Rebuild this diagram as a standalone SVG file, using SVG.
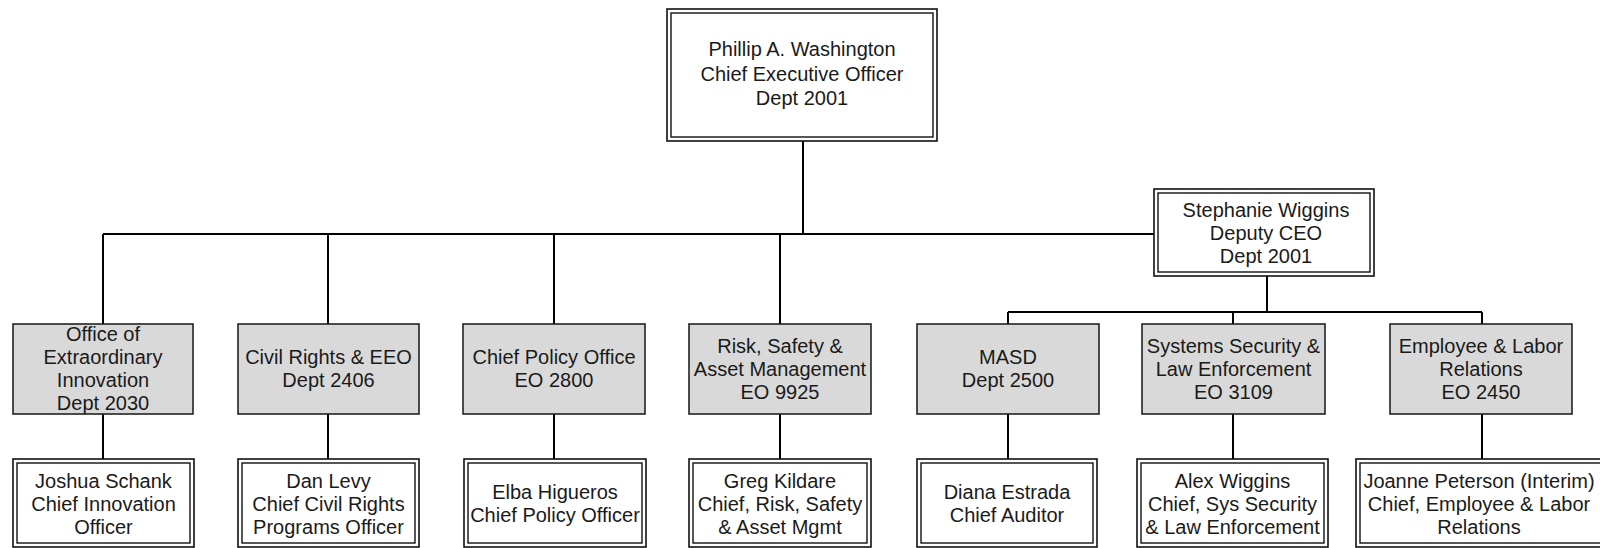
<svg xmlns="http://www.w3.org/2000/svg" width="1600" height="548" viewBox="0 0 1600 548">
<style>
.bg{fill:#ffffff}
.o{fill:#ffffff;stroke:#111;stroke-width:1.6}
.i{fill:none;stroke:#111;stroke-width:1.4}
.g{fill:#d9d9d9;stroke:#222;stroke-width:1.6}
.c{fill:none;stroke:#000;stroke-width:2}
text{font-family:"Liberation Sans",Arial,sans-serif;font-size:20px;fill:#1a1a1a;text-anchor:middle}
</style>
<rect class="bg" x="0" y="0" width="1600" height="548"/>
<g id="connectors">
<path class="c" d="M803,141V234M103,234H1154M103,234V324M328,234V324M554,234V324M780,234V324"/>
<path class="c" d="M1267,276V312M1008,312H1482M1008,312V324M1233,312V324M1482,312V324"/>
<path class="c" d="M103,414V459M328,414V459M554,414V459M780,414V459M1008,414V459M1233,414V459M1482,414V459"/>
</g>
<g id="ceo">
<rect class="o" x="667" y="9" width="270" height="132"/>
<rect class="i" x="671" y="13" width="262" height="124"/>
<text x="802" y="56">Phillip A. Washington</text>
<text x="802" y="81">Chief Executive Officer</text>
<text x="802" y="105">Dept 2001</text>
</g>
<g id="deputy">
<rect class="o" x="1154" y="189" width="220" height="87"/>
<rect class="i" x="1158" y="193" width="212" height="79"/>
<text x="1266" y="217">Stephanie Wiggins</text>
<text x="1266" y="240">Deputy CEO</text>
<text x="1266" y="263">Dept 2001</text>
</g>
<g id="dept-oei">
<rect class="g" x="13" y="324" width="180" height="90"/>
<text x="103" y="341">Office of</text>
<text x="103" y="364">Extraordinary</text>
<text x="103" y="387">Innovation</text>
<text x="103" y="410">Dept 2030</text>
</g>
<g id="dept-civil">
<rect class="g" x="238" y="324" width="181" height="90"/>
<text x="328.5" y="364">Civil Rights &amp; EEO</text>
<text x="328.5" y="387">Dept 2406</text>
</g>
<g id="dept-policy">
<rect class="g" x="463" y="324" width="182" height="90"/>
<text x="554" y="364">Chief Policy Office</text>
<text x="554" y="387">EO 2800</text>
</g>
<g id="dept-risk">
<rect class="g" x="689" y="324" width="182" height="90"/>
<text x="780" y="353">Risk, Safety &amp;</text>
<text x="780" y="376">Asset Management</text>
<text x="780" y="399">EO 9925</text>
</g>
<g id="dept-masd">
<rect class="g" x="917" y="324" width="182" height="90"/>
<text x="1008" y="364">MASD</text>
<text x="1008" y="387">Dept 2500</text>
</g>
<g id="dept-sys">
<rect class="g" x="1142" y="324" width="183" height="90"/>
<text x="1233.5" y="353">Systems Security &amp;</text>
<text x="1233.5" y="376">Law Enforcement</text>
<text x="1233.5" y="399">EO 3109</text>
</g>
<g id="dept-elr">
<rect class="g" x="1390" y="324" width="182" height="90"/>
<text x="1481" y="353">Employee &amp; Labor</text>
<text x="1481" y="376">Relations</text>
<text x="1481" y="399">EO 2450</text>
</g>
<g id="p-schank">
<rect class="o" x="13" y="459" width="181" height="88"/>
<rect class="i" x="17" y="463" width="173" height="80"/>
<text x="103.5" y="488">Joshua Schank</text>
<text x="103.5" y="511">Chief Innovation</text>
<text x="103.5" y="534">Officer</text>
</g>
<g id="p-levy">
<rect class="o" x="238" y="459" width="181" height="88"/>
<rect class="i" x="242" y="463" width="173" height="80"/>
<text x="328.5" y="488">Dan Levy</text>
<text x="328.5" y="511">Chief Civil Rights</text>
<text x="328.5" y="534">Programs Officer</text>
</g>
<g id="p-higueros">
<rect class="o" x="464" y="459" width="182" height="88"/>
<rect class="i" x="468" y="463" width="174" height="80"/>
<text x="555" y="499">Elba Higueros</text>
<text x="555" y="522">Chief Policy Officer</text>
</g>
<g id="p-kildare">
<rect class="o" x="689" y="459" width="182" height="88"/>
<rect class="i" x="693" y="463" width="174" height="80"/>
<text x="780" y="488">Greg Kildare</text>
<text x="780" y="511">Chief, Risk, Safety</text>
<text x="780" y="534">&amp; Asset Mgmt</text>
</g>
<g id="p-estrada">
<rect class="o" x="917" y="459" width="180" height="88"/>
<rect class="i" x="921" y="463" width="172" height="80"/>
<text x="1007" y="499">Diana Estrada</text>
<text x="1007" y="522">Chief Auditor</text>
</g>
<g id="p-wiggins">
<rect class="o" x="1137" y="459" width="191" height="88"/>
<rect class="i" x="1141" y="463" width="183" height="80"/>
<text x="1232.5" y="488">Alex Wiggins</text>
<text x="1232.5" y="511">Chief, Sys Security</text>
<text x="1232.5" y="534">&amp; Law Enforcement</text>
</g>
<g id="p-peterson">
<rect class="o" x="1356" y="459" width="250" height="88"/>
<rect class="i" x="1360" y="463" width="242" height="80"/>
<text x="1479" y="488">Joanne Peterson (Interim)</text>
<text x="1479" y="511">Chief, Employee &amp; Labor</text>
<text x="1479" y="534">Relations</text>
</g>
</svg>
